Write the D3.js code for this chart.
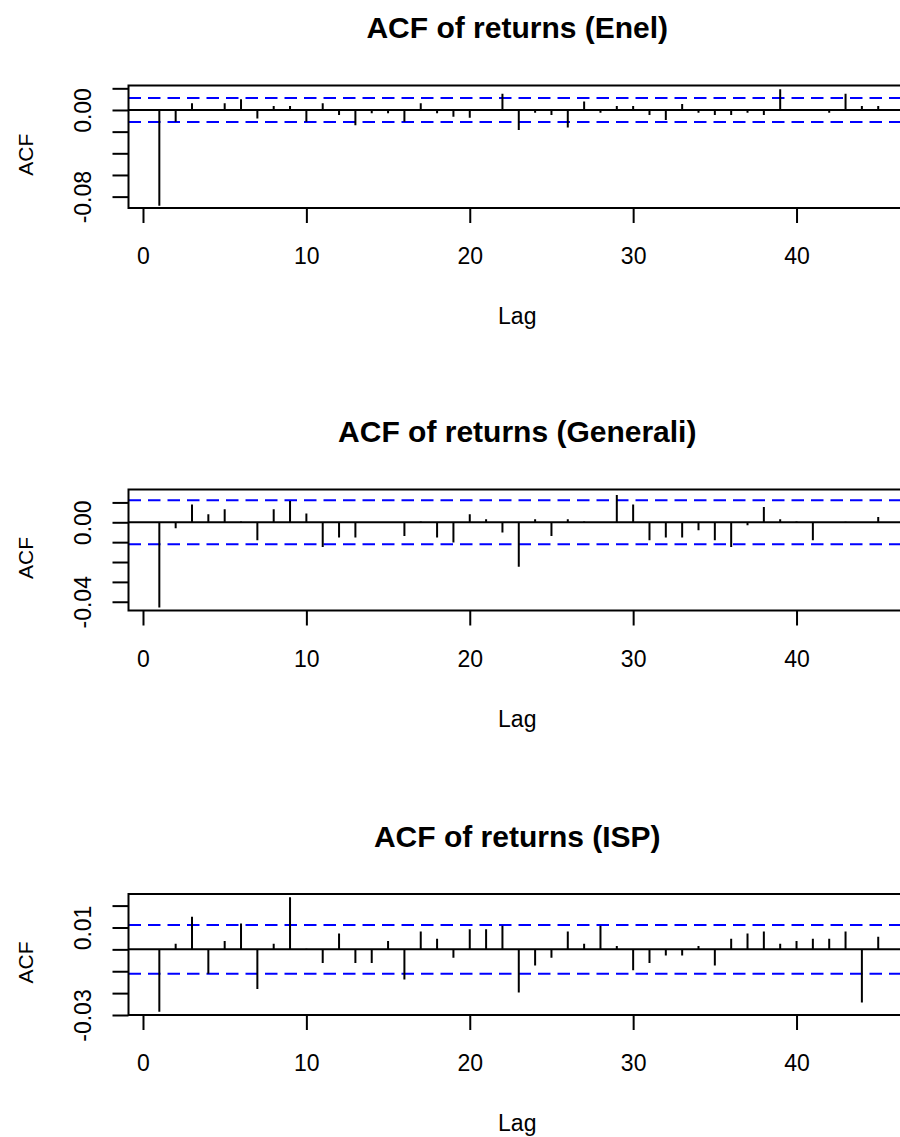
<!DOCTYPE html>
<html>
<head>
<meta charset="utf-8">
<script src="https://cdn.jsdelivr.net/npm/d3@7"></script>
<style>
  body { margin: 0; background: #fff; }
  svg { display: block; }
  text { font-family: "Liberation Sans", Arial, sans-serif; fill: #000; }
</style>
</head>
<body>
<svg class="chart" width="900" height="1137"></svg>
<script>
// lags shown in each ACF plot (lag 0 dropped)
const lags = d3.range(1, 46);

const enelAcf = [
  -0.0884, -0.0109, 0.0062, 0.0008, 0.0062, 0.0099, -0.0078, 0.0037, 0.0037, -0.0109,
  0.0062, -0.0047, -0.0140, -0.0031, -0.0031, -0.0109, 0.0062, -0.0031, -0.0062, -0.0071,
  -0.0008, 0.0149, -0.0186, -0.0025, -0.0047, -0.0161, 0.0078, -0.0025, 0.0037, 0.0037,
  -0.0047, -0.0093, 0.0056, -0.0025, -0.0047, -0.0047, -0.0025, -0.0047, 0.0192, 0.0008,
  -0.0008, -0.0025, 0.0149, 0.0037, 0.0037
];

const generaliAcf = [
  -0.0429, -0.0030, 0.0090, 0.0040, 0.0065, 0.0004, -0.0090, 0.0065, 0.0107, 0.0044,
  -0.0124, -0.0077, -0.0077, -0.0004, -0.0003, -0.0069, 0.0004, -0.0077, -0.0102, 0.0040,
  0.0015, -0.0052, -0.0224, 0.0015, -0.0069, 0.0015, 0.0004, -0.0004, 0.0137, 0.0090,
  -0.0090, -0.0077, -0.0077, -0.0040, -0.0090, -0.0124, -0.0015, 0.0077, 0.0015, 0.0004,
  -0.0090, -0.0004, 0.0003, -0.0003, 0.0027
];

const ispAcf = [
  -0.0285, 0.0026, 0.0149, -0.0112, 0.0038, 0.0118, -0.0181, 0.0026, 0.0238, 0.0003,
  -0.0062, 0.0072, -0.0062, -0.0062, 0.0038, -0.0138, 0.0082, 0.0049, -0.0038, 0.0092,
  0.0092, 0.0108, -0.0197, -0.0074, -0.0038, 0.0082, 0.0026, 0.0108, 0.0015, -0.0095,
  -0.0062, -0.0028, -0.0028, 0.0015, -0.0074, 0.0049, 0.0072, 0.0082, 0.0026, 0.0038,
  0.0049, 0.0049, 0.0082, -0.0243, 0.0058
];

// 95% bound, same n for all three series
const confLimit = 0.0111;

const titles = ["ACF of returns (Enel)", "ACF of returns (Generali)", "ACF of returns (ISP)"];
const xTicks = [0, 10, 20, 30, 40];

const enelYTicks = [0.02, 0, -0.02, -0.04, -0.06, -0.08];
const generaliYTicks = [0.01, 0, -0.01, -0.02, -0.03, -0.04];
const ispYTicks = [0.02, 0.01, 0, -0.01, -0.02, -0.03];
// R only prints the labels that do not overlap
const enelYLabels = ["0.00", "-0.08"];
const generaliYLabels = ["0.00", "-0.04"];
const ispYLabels = ["0.01", "-0.03"];

const series = [enelAcf, generaliAcf, ispAcf];
const yTicksAll = [enelYTicks, generaliYTicks, ispYTicks];
const yLabelsAll = [enelYLabels, generaliYLabels, ispYLabels];

// layout of each panel (plot box)
const panels = [
  { top: 85.5, bottom: 208, ymin: -0.0905, ymax: 0.0226 },
  { top: 489.5, bottom: 610.5, ymin: -0.0444, ymax: 0.0165 },
  { top: 894, bottom: 1015, ymin: -0.0300, ymax: 0.0253 },
];

const svg = d3.select(".chart");
const left = 128.5;
const right = 906; // box runs off the right edge of the picture
const midX = (left + right) / 2;

const x = d3.scaleLinear().domain([-0.887, 46.7]).range([left, right]);

panels.forEach((p, i) => {
  const y = d3.scaleLinear().domain([p.ymin, p.ymax]).range([p.bottom, p.top]);
  const values = series[i];
  const g = svg.append("g");

  g.append("clipPath")
    .attr("id", "clip" + i)
    .append("rect")
    .attr("x", left)
    .attr("y", p.top)
    .attr("width", right - left)
    .attr("height", p.bottom - p.top);

  const plot = g.append("g").attr("clip-path", `url(#clip${i})`);

  // zero line
  plot.append("line")
    .attr("x1", left).attr("x2", right)
    .attr("y1", y(0)).attr("y2", y(0))
    .attr("stroke", "black")
    .attr("stroke-width", 2);

  // confidence bounds
  [confLimit, -confLimit].forEach((c) => {
    plot.append("line")
      .attr("x1", left).attr("x2", right)
      .attr("y1", y(c)).attr("y2", y(c))
      .attr("stroke", "#0000ff")
      .attr("stroke-width", 2)
      .attr("stroke-dasharray", "12.5,7");
  });

  // spikes
  plot.selectAll(".spike")
    .data(lags)
    .join("line")
    .attr("class", "spike")
    .attr("x1", (d) => x(d)).attr("x2", (d) => x(d))
    .attr("y1", y(0))
    .attr("y2", (d, j) => y(values[j]))
    .attr("stroke", "black")
    .attr("stroke-width", 2);

  // box
  g.append("rect")
    .attr("x", left)
    .attr("y", p.top)
    .attr("width", right - left)
    .attr("height", p.bottom - p.top)
    .attr("fill", "none")
    .attr("stroke", "black")
    .attr("stroke-width", 2);

  // x axis
  const xAxis = g.append("g")
    .attr("transform", `translate(0, ${p.bottom})`)
    .call(d3.axisBottom(x).tickValues(xTicks).tickSize(15).tickSizeOuter(0));
  xAxis.select(".domain").remove();
  xAxis.selectAll("line").attr("stroke", "black").attr("stroke-width", 2);
  xAxis.selectAll("text")
    .attr("y", 56)
    .attr("dy", 0)
    .attr("fill", "black")
    .style("font-size", "23px")
    .style("font-family", '"Liberation Sans", Arial, sans-serif');

  // y axis, labels turned like R's las = 0
  const labels = yLabelsAll[i];
  const yAxis = g.append("g")
    .attr("transform", `translate(${left}, 0)`)
    .call(
      d3.axisLeft(y)
        .tickValues(yTicksAll[i])
        .tickSize(16)
        .tickSizeOuter(0)
        .tickFormat((d) => {
          const s = d3.format(".2f")(d).replace("−", "-");
          return labels.includes(s) ? s : "";
        })
    );
  yAxis.select(".domain").remove();
  yAxis.selectAll("line").attr("stroke", "black").attr("stroke-width", 2);
  yAxis.selectAll("text")
    .attr("transform", "rotate(-90)")
    .attr("x", 0)
    .attr("y", -38)
    .attr("dy", 0)
    .attr("fill", "black")
    .style("text-anchor", "middle")
    .style("font-size", "23px")
    .style("font-family", '"Liberation Sans", Arial, sans-serif');

  // title and axis titles
  g.append("text")
    .attr("x", midX)
    .attr("y", p.top - 47.5)
    .attr("text-anchor", "middle")
    .style("font-size", "30px")
    .style("font-weight", "bold")
    .text(titles[i]);

  g.append("text")
    .attr("x", midX)
    .attr("y", p.bottom + 116)
    .attr("text-anchor", "middle")
    .style("font-size", "23px")
    .text("Lag");

  g.append("text")
    .attr("transform", `translate(33, ${(p.top + p.bottom) / 2 + 8}) rotate(-90)`)
    .attr("text-anchor", "middle")
    .style("font-size", "21px")
    .text("ACF");
});
</script>
</body>
</html>
